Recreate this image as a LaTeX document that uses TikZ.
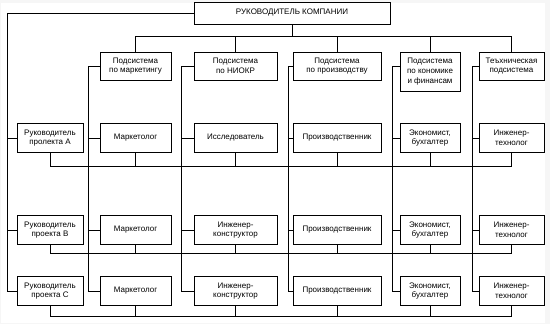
\documentclass[tikz,border=0pt]{standalone}
\usepackage{fontspec}
\setmainfont{Liberation Sans}
\usetikzlibrary{positioning, calc}

\begin{document}
\begin{tikzpicture}[x=1pt, y=-1pt, line width=0.85pt,
            font=\fontsize{8}{9.8}\selectfont,
            head/.style={rectangle, draw, fill=white, minimum width=196pt, minimum height=22pt, inner sep=1pt},
            subsys/.style={rectangle, draw, fill=white, align=center, minimum height=28pt, inner sep=1pt},
            unit/.style={rectangle, draw, fill=white, align=center, minimum height=29pt, inner sep=1pt},
            mgr/.style={rectangle, draw, fill=white, align=center, minimum width=66pt, minimum height=29pt, inner sep=1pt}]

        % page
        \fill[gray!7] (0,0) rectangle (550,324);
        \fill[white] (1,3) rectangle (545,323);
        \useasboundingbox (0,0) rectangle (550,324);

        % column and row guides
        \coordinate (spine) at (7,0);
        \coordinate (col1) at (88,0);
        \coordinate (col2) at (181,0);
        \coordinate (col3) at (288,0);
        \coordinate (col4) at (392,0);
        \coordinate (col5) at (472,0);
        \coordinate (bus) at (0,36);
        \coordinate (rowA) at (0,166);
        \coordinate (rowB) at (0,253);
        \coordinate (rowC) at (0,316);

        \node [head] (boss) at (292,13) {РУКОВОДИТЕЛЬ КОМПАНИИ};

        % subsystems
        \node [subsys, minimum width=71pt] (mark) at (135.5,66) {Подсистема\\по маркетингу};
        \node [subsys, minimum width=83pt] (rnd) at (235.5,66) {Подсистема\\по НИОКР};
        \node [subsys, minimum width=88pt] (prod) at (337,66) {Подсистема\\по производству};
        \node [subsys, minimum width=60pt, minimum height=39pt] (econ) at (430,71.5) {Подсистема\\по кономике\\и финансам};
        \node [subsys, minimum width=65pt] (tech) at (511.5,66) {Теъхническая\\подсистема};

        % project A
        \node [mgr] (mgrA) at (50,138) {Руководитель\\пролекта А};
        \node [unit, minimum width=71pt] (markA) at (135.5,138) {Маркетолог};
        \node [unit, minimum width=83pt] (rndA) at (235.5,138) {Исследователь};
        \node [unit, minimum width=88pt] (prodA) at (337,138) {Производственник};
        \node [unit, minimum width=60pt] (econA) at (430,138) {Экономист,\\бухгалтер};
        \node [unit, minimum width=65pt] (techA) at (511.5,138) {Инженер-\\технолог};

        % project B
        \node [mgr] (mgrB) at (50,230) {Руководитель\\проекта В};
        \node [unit, minimum width=71pt] (markB) at (135.5,230) {Маркетолог};
        \node [unit, minimum width=83pt] (rndB) at (235.5,230) {Инженер-\\конструктор};
        \node [unit, minimum width=88pt] (prodB) at (337,230) {Производственник};
        \node [unit, minimum width=60pt] (econB) at (430,230) {Экономист,\\бухгалтер};
        \node [unit, minimum width=65pt] (techB) at (511.5,230) {Инженер-\\технолог};

        % project C
        \node [mgr] (mgrC) at (50,291) {Руководитель\\проекта С};
        \node [unit, minimum width=71pt] (markC) at (135.5,291) {Маркетолог};
        \node [unit, minimum width=83pt] (rndC) at (235.5,291) {Инженер-\\конструктор};
        \node [unit, minimum width=88pt] (prodC) at (337,291) {Производственник};
        \node [unit, minimum width=60pt] (econC) at (430,291) {Экономист,\\бухгалтер};
        \node [unit, minimum width=65pt] (techC) at (511.5,291) {Инженер-\\технолог};

        % head to subsystems
        \draw (boss.south) -- (boss.south |- bus);
        \draw (mark.north) -- (mark.north |- bus) -- (tech.north |- bus) -- (tech.north);
        \draw (rnd.north) -- (rnd.north |- bus);
        \draw (prod.north) -- (prod.north |- bus);
        \draw (econ.north) -- (econ.north |- bus);

        % head to project managers
        \draw (boss.west) -| (spine |- mgrC.west) -- (mgrC.west);
        \draw (spine |- mgrA.west) -- (mgrA.west);
        \draw (spine |- mgrB.west) -- (mgrB.west);

        % subsystems to specialists
        \draw (mark.west) -| (col1 |- markC.west) -- (markC.west);
        \draw (col1 |- markA.west) -- (markA.west);
        \draw (col1 |- markB.west) -- (markB.west);
        \draw (rnd.west) -| (col2 |- rndC.west) -- (rndC.west);
        \draw (col2 |- rndA.west) -- (rndA.west);
        \draw (col2 |- rndB.west) -- (rndB.west);
        \draw (prod.west) -| (col3 |- prodC.west) -- (prodC.west);
        \draw (col3 |- prodA.west) -- (prodA.west);
        \draw (col3 |- prodB.west) -- (prodB.west);
        \draw (econ.west |- mark.west) -| (col4 |- econC.west) -- (econC.west);
        \draw (col4 |- econA.west) -- (econA.west);
        \draw (col4 |- econB.west) -- (econB.west);
        \draw (tech.west) -| (col5 |- techC.west) -- (techC.west);
        \draw (col5 |- techA.west) -- (techA.west);
        \draw (col5 |- techB.west) -- (techB.west);

        % project teams
        \draw (mgrA.south) -- (mgrA.south |- rowA) -- (techA.south |- rowA) -- (techA.south);
        \draw (markA.south) -- (markA.south |- rowA);
        \draw (rndA.south) -- (rndA.south |- rowA);
        \draw (prodA.south) -- (prodA.south |- rowA);
        \draw (econA.south) -- (econA.south |- rowA);

        \draw (mgrB.south) -- (mgrB.south |- rowB) -- (techB.south |- rowB) -- (techB.south);
        \draw (markB.south) -- (markB.south |- rowB);
        \draw (rndB.south) -- (rndB.south |- rowB);
        \draw (prodB.south) -- (prodB.south |- rowB);
        \draw (econB.south) -- (econB.south |- rowB);

        \draw (mgrC.south) -- (mgrC.south |- rowC) -- (techC.south |- rowC) -- (techC.south);
        \draw (markC.south) -- (markC.south |- rowC);
        \draw (rndC.south) -- (rndC.south |- rowC);
        \draw (prodC.south) -- (prodC.south |- rowC);
        \draw (econC.south) -- (econC.south |- rowC);

    \end{tikzpicture}
\end{document}
